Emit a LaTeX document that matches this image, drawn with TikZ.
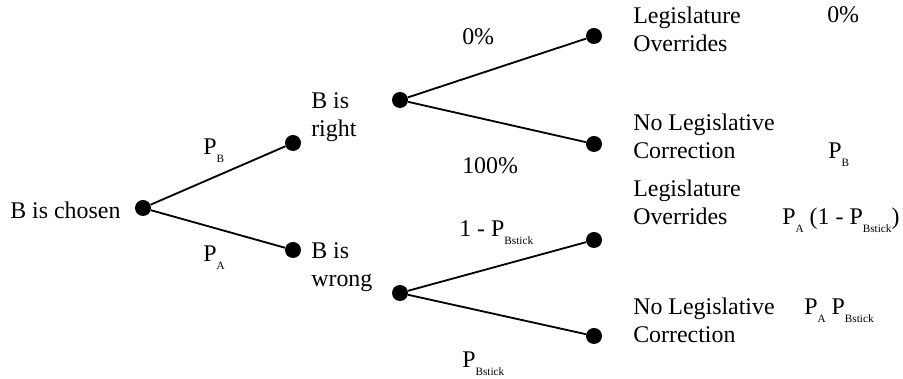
\documentclass[tikz,border=0pt]{standalone}
\usepackage{fontspec}
\setmainfont{Liberation Serif}
\newcommand{\lsub}[1]{\raisebox{-5pt}{\fontsize{8}{8}\selectfont #1}}

\begin{document}
\begin{tikzpicture}[
    x=0.025cm, y=-0.025cm,
    font=\fontsize{17}{20}\selectfont,
    dot/.style={
        circle,
        fill=black,
        inner sep=0pt,
        minimum size=0.4cm
    },
    lbl/.style={
        anchor=base west,
        inner sep=0pt,
        align=left
    },
    branch/.style={line width=1.3pt}
]
    \useasboundingbox (0,0) rectangle (903,379);

    % decision points
    \node[dot] (chosen) at (143,208) {};
    \node[dot] (right) at (293,143) {};
    \node[dot] (wrong) at (293,250) {};
    \node[dot] (rightfork) at (400,100) {};
    \node[dot] (wrongfork) at (400,293) {};
    \node[dot] (rover) at (594,36) {};
    \node[dot] (rnocorr) at (594,144) {};
    \node[dot] (wover) at (594,240) {};
    \node[dot] (wnocorr) at (594,336) {};

    \draw[branch] (chosen) -- (right);
    \draw[branch] (chosen) -- (wrong);
    \draw[branch] (rightfork) -- (rover);
    \draw[branch] (rightfork) -- (rnocorr);
    \draw[branch] (wrongfork) -- (wover);
    \draw[branch] (wrongfork) -- (wnocorr);

    % states (base = last line)
    \node[lbl] (tchosen) at (10,219) {B is chosen};
    \node[lbl] (tright) at (311,137) {B is\\right};
    \node[lbl] (twrong) at (311,287) {B is\\wrong};

    % probabilities on the branches
    \node[lbl] (pb) at (203,155) {P\lsub{B}};
    \node[lbl] (pa) at (203,262) {P\lsub{A}};
    \node[lbl] (pzero) at (462,45) {0\%};
    \node[lbl] (pfull) at (462,174) {100\%};
    \node[lbl] (pnostick) at (459,237) {1 - P\lsub{Bstick}};
    \node[lbl] (pstick) at (462,368) {P\lsub{Bstick}};

    % outcomes
    \node[lbl] (o1) at (633,52) {Legislature\\Overrides};
    \node[lbl] (o2) at (633,159) {No Legislative\\Correction};
    \node[lbl] (o3) at (633,225) {Legislature\\Overrides};
    \node[lbl] (o4) at (633,343) {No Legislative\\Correction};

    % joint probabilities
    \node[lbl] (j1) at (827,23) {0\%};
    \node[lbl] (j2) at (828,159) {P\lsub{B}};
    \node[lbl] (j3) at (782,225) {P\lsub{A} (1 - P\lsub{Bstick})};
    \node[lbl] (j4) at (804,315) {P\lsub{A} P\lsub{Bstick}};
\end{tikzpicture}
\end{document}
